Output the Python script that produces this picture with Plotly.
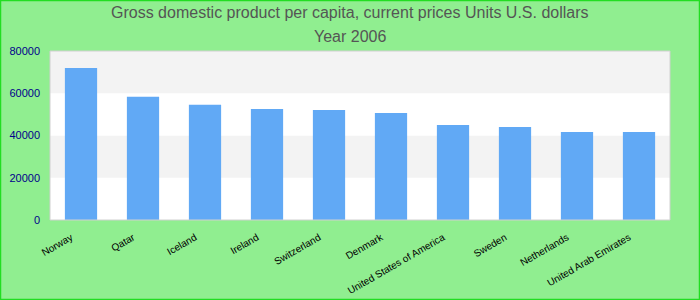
import plotly.graph_objects as go

countries = ["Norway", "Qatar", "Iceland", "Ireland", "Switzerland", "Denmark",
             "United States of America", "Sweden", "Netherlands", "United Arab Emirates"]
gdp = [72000, 58300, 54500, 52600, 52100, 50600, 45000, 44000, 41700, 41700]
y_ticks = [0, 20000, 40000, 60000, 80000]
title_lines = ["Gross domestic product per capita, current prices Units U.S. dollars", "Year 2006"]

W, H = 700, 300
ml, mr, mt, mb = 50, 30, 51, 80
pw, ph = W - ml - mr, H - mt - mb

fig = go.Figure(go.Bar(x=countries, y=gdp, marker_color="#61A9F5",
                       marker_line_width=0, width=0.52))

shapes = []
for i in range(len(y_ticks) - 1):
    shapes.append(dict(type="rect", xref="paper", yref="y", x0=0, x1=1,
                       y0=y_ticks[i], y1=y_ticks[i + 1], layer="below", line_width=0,
                       fillcolor="#ffffff" if i % 2 == 0 else "#f3f3f3"))
shapes.append(dict(type="rect", xref="paper", yref="paper", x0=0, x1=1, y0=0, y1=1,
                   line=dict(color="#d0d0d0", width=1)))
shapes.append(dict(type="rect", xref="paper", yref="paper",
                   x0=(-ml + 0.5) / pw, x1=(pw + mr - 0.5) / pw,
                   y0=(-mb + 0.5) / ph, y1=(ph + mt - 0.5) / ph,
                   line=dict(color="#22dd22", width=1.5)))

annotations = []
for line, ypix in zip(title_lines, [13, 36]):
    annotations.append(dict(text=line, xref="paper", yref="paper", x=(W / 2 - ml) / pw,
                            y=(ph + mt - ypix) / ph, xanchor="center", yanchor="middle",
                            showarrow=False, font=dict(size=16, color="#555555")))

fig.update_layout(
    width=W, height=H,
    margin=dict(l=ml, r=mr, t=mt, b=mb),
    paper_bgcolor="#90EE90", plot_bgcolor="#ffffff",
    font=dict(family="Liberation Sans, Arial, sans-serif"),
    showlegend=False,
    shapes=shapes,
    annotations=annotations,
    xaxis=dict(tickangle=-30, tickfont=dict(size=10, color="#000000"),
               ticklabelstandoff=9, ticklabelshift=-10, automargin=False,
               showgrid=False, zeroline=False, showline=False, ticks=""),
    yaxis=dict(range=[0, 80000], tickvals=y_ticks, ticktext=[str(v) for v in y_ticks],
               tickfont=dict(size=11, color="#00008B"), showgrid=False, automargin=False,
               ticklabelstandoff=9,
               zeroline=False, showline=False, ticks=""),
)
fig.write_html("out.html")
